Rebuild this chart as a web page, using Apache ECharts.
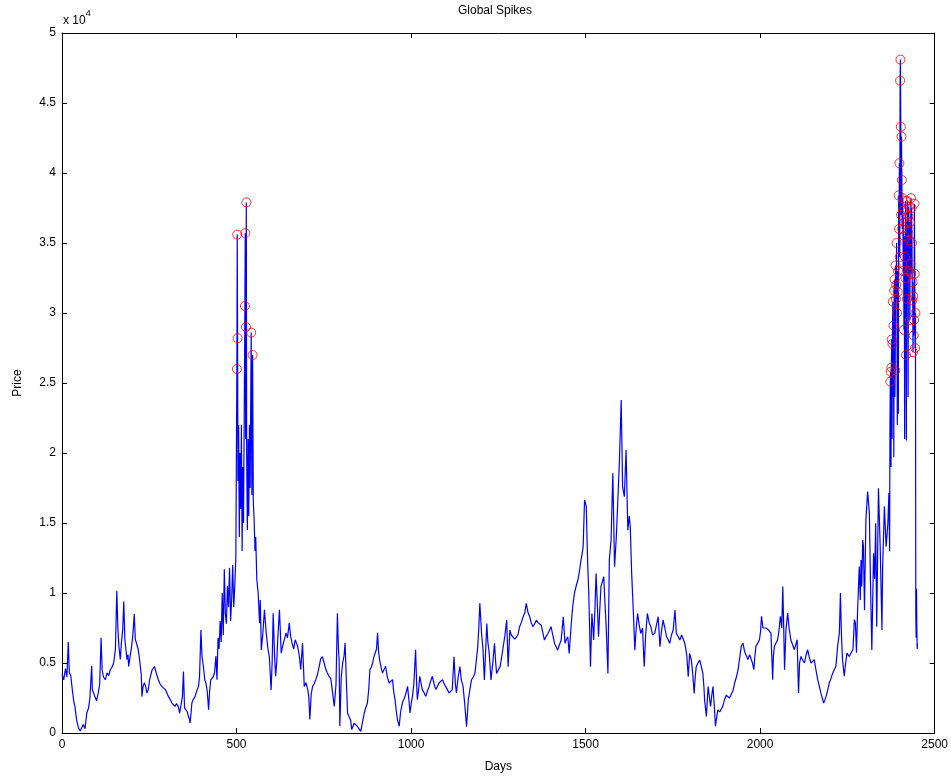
<!DOCTYPE html>
<html>
<head>
<meta charset="utf-8">
<script src="https://cdn.jsdelivr.net/npm/echarts@6/dist/echarts.min.js"></script>
<style>
html,body{margin:0;padding:0;background:#fff;}
#chart{width:951px;height:778px;}
</style>
</head>
<body>
<div id="chart"></div>
<script>
// ---- DATA: [day, price] ----
const segEarly = [[0,4200],[5,3800],[10,4600],[14,4000],[18,6500],[21,4300],[25,4100],[30,3000],[34,2200],[37,1900],[42,900],[47,400],[52,150],[56,200],[61,600],[66,300],[71,1430],[76,1780],[80,2500],[85,4800],[87,3070],[90,2900],[94,2600],[99,2300],[104,2880],[108,3500],[112,6800],[115,4500],[119,4000],[124,3800],[129,4300],[134,4100],[138,4500],[143,4700],[148,5000],[151,5600],[153,5950],[157,10160],[160,7500],[163,6200],[167,5250],[170,6400],[174,7400],[177,9400],[180,6700],[183,6000],[186,5250],[189,5600],[191,4750],[195,5450],[199,6100],[203,7000],[207,8500],[210,6700],[214,6700],[218,6000],[221,5500],[224,5450],[227,4200],[229,2600],[232,3300],[236,3600],[240,3300],[243,2850],[247,3070],[251,3800],[255,4200],[258,4500],[262,4500],[265,4750],[267,4750],[271,4200],[276,3800],[281,3500],[286,3330],[291,3300],[296,3100],[300,2900],[305,2600],[310,2400],[315,2140],[320,2000],[324,1900],[328,2100],[333,1900],[337,1420],[341,2000],[345,2600],[348,4400],[351,1800],[355,1660],[359,1500],[362,1190],[365,1000],[367,710],[370,1500],[372,2140],[376,2400],[381,2600],[386,3000],[391,3330],[394,4000],[398,7350],[401,5500],[405,4750],[409,3800],[412,3600],[416,3000],[420,1660],[423,3000],[426,3800],[429,3800],[433,4000],[437,4300]];

const segSpike1 = [[441,5500],[444,3800],[447,6800],[450,6000],[453,8000],[456,6500],[459,10000],[462,7000],[465,11700],[468,8500],[471,7800],[474,10500],[477,9000],[480,11800],[483,8000],[486,9500],[489,12000],[492,9000],[495,10500],[498,12500],[501,26000],[502,35600],[503,28200],[504,18000],[506,22000],[508,14000],[510,20000],[512,16000],[514,22000],[516,13000],[518,19000],[520,15000],[522,22500],[524,30500],[525,35700],[526,21000],[527,29000],[528,37900],[529,20000],[531,14500],[533,21000],[535,15500],[537,22000],[539,17500],[542,28600],[544,17000],[546,27000],[548,16500],[550,15500],[553,13000],[555,14000],[558,11000],[561,10900],[562,9980]];

const segMid = [[566,7850],[568,9500],[571,5930],[575,7000],[580,8800],[585,7140],[590,6000],[594,5450],[599,3070],[602,5000],[605,8560],[609,5500],[612,4050],[615,5000],[618,6660],[623,8800],[628,5700],[632,6200],[637,6190],[642,7140],[646,6800],[651,7850],[655,6900],[659,6430],[664,6000],[668,6660],[672,6400],[675,6190],[680,5500],[684,4530],[689,6430],[694,3330],[699,3600],[704,3100],[707,2600],[710,960],[714,2800],[718,3330],[722,3500],[727,3810],[732,4200],[737,4760],[741,5300],[746,5450],[751,5000],[756,4530],[760,4300],[765,4050],[770,3900],[775,3810],[780,1900],[785,3500],[789,8560],[792,6000],[794,5210],[796,480],[800,4000],[804,5000],[808,5500],[811,6430],[815,3500],[818,1430],[823,1430],[827,900],[830,240],[834,500],[837,710],[842,600],[846,480],[851,300],[856,120],[861,800],[866,1430],[870,1800],[875,2140],[879,3200],[882,4530],[886,4700],[890,5000],[893,5400],[897,5700],[901,6000],[904,7140],[907,5800],[910,5210],[914,4700],[918,4290],[922,4500],[927,4760],[932,4000],[937,3570],[942,3700],[947,3810],[950,3000],[954,2380],[958,1500],[961,950],[966,480],[970,1500],[975,2140],[979,2400],[983,2620],[987,3000],[990,3330],[994,2300],[997,1430],[1001,2200],[1004,2620],[1008,3500],[1013,5950],[1016,3500],[1018,2380],[1022,3200],[1025,4050],[1029,3500],[1032,3100],[1037,2900],[1042,2620],[1047,3000],[1052,3330],[1056,3700],[1061,4050],[1066,3500],[1071,3100],[1075,3300],[1080,3570],[1085,3700],[1090,3810],[1095,3500],[1099,3330],[1104,3100],[1109,2860],[1113,3000],[1118,3100],[1123,5450],[1127,3500],[1130,2860],[1135,4000],[1140,4740],[1144,3800],[1149,3330],[1154,2000],[1159,450],[1164,2380],[1168,3000],[1173,3790],[1178,4000],[1183,4260],[1187,5200],[1191,6160],[1194,7500],[1197,9260],[1200,8000],[1202,7110],[1206,6000],[1210,3790],[1213,5500],[1217,7820],[1220,6500],[1224,5680],[1227,4500],[1229,3790],[1234,5000],[1239,6400],[1242,5200],[1245,4260],[1250,4500],[1255,4740],[1260,5500],[1264,6160],[1269,7000],[1274,8060],[1276,6500],[1278,4740],[1283,7350],[1287,7000],[1292,6870],[1297,6700],[1302,6640],[1306,7000],[1311,7590],[1316,7900],[1321,8300],[1326,8600],[1330,9260],[1335,8600],[1340,8300],[1344,7900],[1349,7590],[1354,7800],[1359,8060],[1363,7900],[1368,7820],[1373,7700],[1378,7590],[1382,6640],[1387,6900],[1392,7110],[1396,7300],[1401,7590],[1406,7000],[1411,6400],[1415,6200],[1420,5920],[1425,6300],[1430,6640],[1436,8300],[1441,6400],[1445,6700],[1449,6870],[1453,5680],[1459,7820],[1463,9000],[1468,9980],[1473,10500],[1478,10930],[1482,11500],[1487,12360],[1490,12800],[1493,13300],[1497,16640],[1500,16400],[1502,16170],[1504,14000],[1506,12120],[1509,10000],[1511,8060],[1514,4740],[1518,8540],[1521,7500],[1523,6640],[1527,9000],[1530,11400],[1534,9000],[1537,6870],[1541,9000],[1544,10450],[1548,10800],[1552,11170],[1555,9500],[1559,7590],[1564,4260],[1568,12360],[1573,13780],[1578,18550],[1583,11880],[1588,14000],[1592,16400],[1597,19500],[1602,23790],[1606,17600],[1611,16880],[1616,20210],[1621,14490],[1625,15500],[1628,14730],[1632,11400],[1637,8540],[1641,5920],[1645,7500],[1649,8540],[1653,7800],[1658,7110],[1663,7500],[1668,4740],[1672,7000],[1677,8540],[1682,7900],[1687,7590],[1692,7000],[1698,7120]];

const segLate = [[1708,8310],[1713,6170],[1717,7200],[1722,8070],[1727,7500],[1732,6880],[1736,6700],[1741,6410],[1746,7000],[1751,7360],[1756,8790],[1760,7120],[1765,6900],[1770,6640],[1775,7000],[1779,6880],[1783,6500],[1786,6170],[1790,5500],[1794,4020],[1798,5690],[1803,5210],[1807,4200],[1811,2830],[1814,4000],[1817,4740],[1822,5000],[1827,5210],[1831,4800],[1836,4260],[1839,3300],[1841,2350],[1846,1190],[1851,3310],[1855,2500],[1858,1900],[1862,2800],[1865,3310],[1869,1800],[1872,480],[1876,1200],[1879,1660],[1884,1500],[1889,1430],[1893,1900],[1898,2380],[1903,2700],[1908,2620],[1912,2500],[1917,2380],[1922,3000],[1927,3570],[1932,4000],[1937,4520],[1941,5300],[1946,6190],[1951,6430],[1954,6000],[1957,5710],[1961,5500],[1965,5240],[1970,5600],[1974,5470],[1978,5000],[1982,4520],[1985,5500],[1988,6190],[1993,6400],[1998,6660],[2001,7200],[2004,8330],[2008,7500],[2012,7380],[2017,7500],[2022,7620],[2026,7300],[2031,7140],[2036,3810],[2038,5500],[2041,6190],[2045,6400],[2050,6660],[2054,7300],[2058,8330],[2062,7500],[2065,10470],[2068,7000],[2070,4520],[2074,7380],[2079,8570],[2083,7500],[2088,6660],[2093,6300],[2098,5950],[2102,6300],[2106,6660],[2110,2860],[2113,5000],[2117,5470],[2122,5200],[2127,5000],[2131,5500],[2136,5950],[2141,5400],[2146,5000],[2150,5100],[2155,5240],[2160,4500],[2165,3810],[2170,3300],[2174,2860],[2178,2500],[2182,2140],[2186,2400],[2189,2620],[2194,3100],[2198,3570],[2203,3900],[2208,4290],[2212,4500],[2217,4760],[2222,6190],[2227,7140],[2230,10000],[2233,7000],[2236,5240],[2241,4050],[2245,5000],[2249,5710],[2255,5470],[2260,5600],[2266,5970],[2270,8100],[2273,7880],[2276,5730],[2279,8570],[2284,11900],[2287,9500],[2289,12360],[2291,10470],[2294,13790],[2296,13330],[2299,8780],[2303,15220],[2308,17240],[2313,15690],[2316,10930],[2320,5930],[2325,12840],[2328,11000],[2331,14980],[2334,7590],[2339,17480],[2344,13310],[2349,7350],[2351,11880],[2356,16170],[2361,13310],[2366,14980],[2369,17140]];

const segSpike2 = [[2371,13000],[2372,22000],[2373,25100],[2374,25800],[2375,19000],[2376,26100],[2377,28100],[2378,21000],[2379,27800],[2380,30800],[2381,24000],[2382,29100],[2383,19700],[2384,31600],[2385,32400],[2386,24000],[2387,25900],[2388,33400],[2389,31000],[2390,32000],[2391,35000],[2392,30000],[2393,22000],[2394,31500],[2395,33000],[2396,22800],[2397,38400],[2398,36000],[2399,40700],[2400,34000],[2401,46600],[2402,48100],[2403,43300],[2404,37000],[2405,42600],[2406,39500],[2407,36000],[2408,38200],[2409,37300],[2410,33000],[2411,36800],[2412,28800],[2413,35500],[2414,21000],[2415,34000],[2416,32500],[2417,38000],[2418,27000],[2419,20900],[2420,36500],[2421,31000],[2422,38000],[2423,35800],[2424,24000],[2425,36900],[2426,37600],[2427,33000],[2428,35200],[2429,29500],[2430,36500],[2431,33500],[2432,38200],[2433,32800],[2434,37500],[2435,35000],[2436,30900],[2437,32200],[2438,27200],[2439,31200],[2440,28400],[2441,29500],[2442,37800],[2443,32800],[2444,27500],[2445,30000],[2446,8500],[2447,6800],[2448,10300],[2449,7500],[2450,6000],[2451,6400]];

const xTicks = [0, 500, 1000, 1500, 2000, 2500];
const yTickLabels = ['0','0.5','1','1.5','2','2.5','3','3.5','4','4.5','5'];
const spikeThreshold = 25000;

// ---- build ----
const allPoints = [].concat(segEarly, segSpike1, segMid, segLate, segSpike2);
const spikePoints = allPoints.filter(p => p[1] >= spikeThreshold);

const fontFam = '"Liberation Sans Narrow","Liberation Sans",Arial,sans-serif';
const axisCommon = {
  axisLine: {show: true, onZero: false, lineStyle: {color: '#000', width: 1}},
  axisTick: {show: true, inside: true, length: 5, lineStyle: {color: '#000'}},
  splitLine: {show: false}
};

const chart = echarts.init(document.getElementById('chart'), null, {renderer: 'canvas'});
chart.setOption({
  animation: false,
  backgroundColor: '#fff',
  grid: {left: 62, right: 16, top: 33, bottom: 45, containLabel: false},
  xAxis: [
    Object.assign({
      type: 'value', position: 'bottom', min: xTicks[0], max: xTicks[xTicks.length-1], interval: 500,
      axisLabel: {color: '#000', fontSize: 12, fontFamily: fontFam, margin: 6,
        formatter: (v) => String(v)},
      name: 'Days', nameLocation: 'middle', nameGap: 28,
      nameTextStyle: {color: '#000', fontSize: 12, fontFamily: fontFam}
    }, axisCommon),
    Object.assign({
      type: 'value', position: 'top', min: xTicks[0], max: xTicks[xTicks.length-1], interval: 500,
      axisLabel: {show: false}
    }, axisCommon)
  ],
  yAxis: [
    Object.assign({
      type: 'value', position: 'left', min: 0, max: 50000, interval: 5000,
      axisLabel: {color: '#000', fontSize: 12, fontFamily: fontFam, margin: 6,
        formatter: (v) => yTickLabels[Math.round(v / 5000)]},
      name: 'Price', nameLocation: 'middle', nameGap: 38,
      nameTextStyle: {color: '#000', fontSize: 12, fontFamily: fontFam}
    }, axisCommon),
    Object.assign({
      type: 'value', position: 'right', min: 0, max: 50000, interval: 5000,
      axisLabel: {show: false}
    }, axisCommon)
  ],
  graphic: [
    {type: 'text', left: 458, top: 5, style: {text: 'Global Spikes', font: '12px ' + fontFam, fill: '#000'}},
    {type: 'text', left: 63, top: 9, style: {
      text: '{a|x 10}{b|4}',
      rich: {a: {fontSize: 12, fontFamily: fontFam, fill: '#000', padding: [6,0,0,0]},
             b: {fontSize: 9, fontFamily: fontFam, fill: '#000', verticalAlign: 'top'}}
    }}
  ],
  series: [
    {type: 'line', data: allPoints, showSymbol: false, symbol: 'none', sampling: null,
     lineStyle: {color: '#0000ff', width: 1.2}, silent: true, z: 2},
    {type: 'scatter', data: spikePoints, symbol: 'circle', symbolSize: 9,
     itemStyle: {color: 'rgba(0,0,0,0)', borderColor: '#ff0000', borderWidth: 1}, z: 3, silent: true}
  ]
});
</script>
</body>
</html>
